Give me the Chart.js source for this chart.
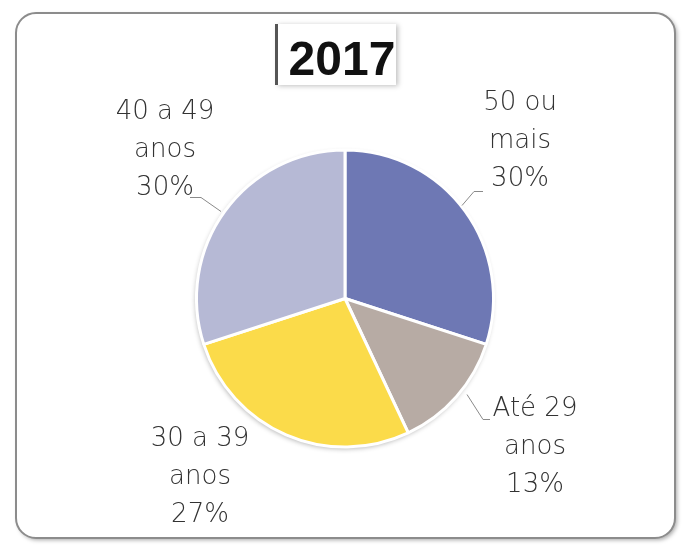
<!DOCTYPE html>
<html>
<head>
<meta charset="utf-8">
<script src="https://cdn.jsdelivr.net/npm/chart.js@4"></script>
<style>
  html, body { margin: 0; padding: 0; background: #fff; }
  #wrap { width: 690px; height: 546px; }
</style>
</head>
<body>
<div id="wrap"><canvas id="pie-chart" width="690" height="546"></canvas></div>
<script>
// data
const title = "2017";
const labels = [["50 ou", "mais"], ["Até 29", "anos"], ["30 a 39", "anos"], ["40 a 49", "anos"]];
const values = [30, 13, 27, 30];
const colors = ["#6e78b4", "#b7aba4", "#fbdb4a", "#b6b9d5"];

// label placement, relative to the pie centre (layout only)
const labelOffsets = [[175, -195], [190, 111], [-145, 141], [-180, -186]];
const leaders = [
  [[117, -93], [129, -107], [138, -107]],
  [[122, 96], [138, 121], [145, 121]],
  null,
  [[-124, -87], [-144, -101], [-155, -101]]
];

function roundRect(c, x, y, w, h, r) {
  c.beginPath();
  c.moveTo(x + r, y);
  c.lineTo(x + w - r, y);
  c.arcTo(x + w, y, x + w, y + r, r);
  c.lineTo(x + w, y + h - r);
  c.arcTo(x + w, y + h, x + w - r, y + h, r);
  c.lineTo(x + r, y + h);
  c.arcTo(x, y + h, x, y + h - r, r);
  c.lineTo(x, y + r);
  c.arcTo(x, y, x + r, y, r);
  c.closePath();
}

const decor = {
  id: "decor",
  beforeDraw(chart) {
    const c = chart.ctx;
    c.save();
    // outer frame
    c.shadowColor = "rgba(0,0,0,0.35)";
    c.shadowBlur = 4;
    c.shadowOffsetX = 2;
    c.shadowOffsetY = 2;
    roundRect(c, 16, 13, 659, 525, 20);
    c.fillStyle = "#fff";
    c.fill();
    c.shadowColor = "transparent";
    c.lineWidth = 2;
    c.strokeStyle = "#8c8c8c";
    c.stroke();
    // title box
    c.shadowColor = "rgba(0,0,0,0.25)";
    c.shadowBlur = 5;
    c.shadowOffsetX = 2;
    c.shadowOffsetY = 1;
    c.fillStyle = "#fff";
    c.fillRect(276, 24, 120, 61);
    c.shadowColor = "transparent";
    c.fillStyle = "#555";
    c.fillRect(275, 24, 3, 61);
    c.fillStyle = "#111";
    c.font = "bold 48px 'Liberation Sans', Arial, sans-serif";
    c.textAlign = "center";
    c.textBaseline = "alphabetic";
    c.fillText(title, 342, 75);
    c.restore();
  },
  beforeDatasetsDraw(chart) {
    // soft shadow under the pie
    const c = chart.ctx;
    const a = chart.getDatasetMeta(0).data[0];
    c.save();
    c.shadowColor = "rgba(0,0,0,0.3)";
    c.shadowBlur = 5;
    c.shadowOffsetX = -1;
    c.shadowOffsetY = 2;
    c.beginPath();
    c.arc(a.x, a.y, a.outerRadius, 0, Math.PI * 2);
    c.fillStyle = "#fff";
    c.fill();
    c.restore();
  },
  afterDraw(chart) {
    const c = chart.ctx;
    const arcs = chart.getDatasetMeta(0).data;
    const cx = arcs[0].x, cy = arcs[0].y;
    c.save();
    c.strokeStyle = "#8a8a8a";
    c.lineWidth = 1;
    leaders.forEach(pts => {
      if (!pts) return;
      c.beginPath();
      c.moveTo(cx + pts[0][0], cy + pts[0][1]);
      for (let i = 1; i < pts.length; i++) c.lineTo(cx + pts[i][0], cy + pts[i][1]);
      c.stroke();
    });
    c.fillStyle = "#333";
    c.font = "200 26px 'DejaVu Sans', sans-serif";
    c.textAlign = "center";
    c.textBaseline = "middle";
    const total = values.reduce((a, b) => a + b, 0);
    labels.forEach((lines, i) => {
      const x = cx + labelOffsets[i][0];
      let y = cy + labelOffsets[i][1];
      const all = lines.concat([Math.round(values[i] / total * 100) + "%"]);
      all.forEach((t, k) => c.fillText(t, x, y + k * 38));
    });
    c.restore();
  }
};

const ctx = document.getElementById("pie-chart").getContext("2d");
new Chart(ctx, {
  type: "pie",
  data: {
    labels: labels.map(l => l.join(" ")),
    datasets: [{
      data: values,
      backgroundColor: colors,
      borderColor: "#ffffff",
      borderWidth: 3,
    }],
  },
  options: {
    responsive: false,
    animation: false,
    layout: { padding: { top: 148, bottom: 97, left: 195, right: 195 } },
    plugins: {
      legend: { display: false },
      tooltip: { enabled: false },
      title: { display: false },
    },
  },
  plugins: [decor],
});
</script>
</body>
</html>
